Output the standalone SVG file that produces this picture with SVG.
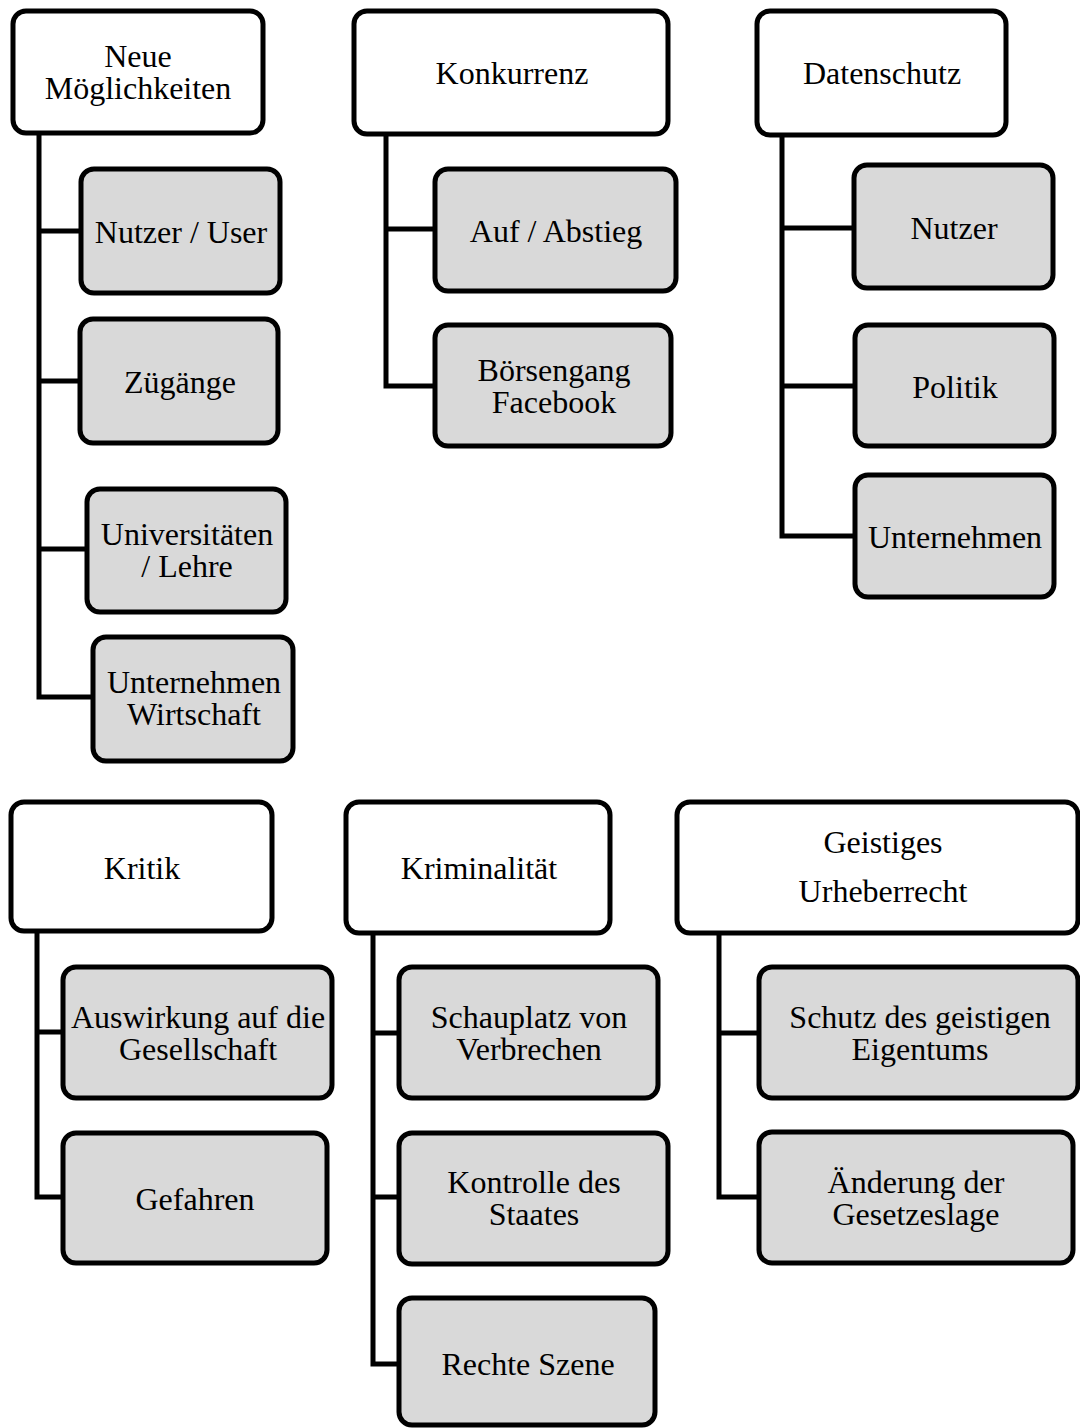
<svg xmlns="http://www.w3.org/2000/svg" width="1080" height="1428" viewBox="0 0 1080 1428">
<style>
.top{fill:#ffffff;stroke:#000;stroke-width:5}
.sub{fill:#d9d9d9;stroke:#000;stroke-width:5}
.c{fill:none;stroke:#000;stroke-width:5;stroke-linejoin:miter}
text{font-family:"Liberation Serif","Times New Roman",serif;font-size:32px;fill:#000;text-anchor:middle}
</style>
<rect width="1080" height="1428" fill="#ffffff"/>
<g id="connectors">
<path class="c" d="M39 135 V697 H93 M39 231 H81 M39 381 H80 M39 549 H87"/>
<path class="c" d="M386 135 V386 H435 M386 229 H435"/>
<path class="c" d="M782 135 V536 H855 M782 228 H854 M782 386 H855"/>
<path class="c" d="M37 933 V1197 H63 M37 1032 H63"/>
<path class="c" d="M373 933 V1364 H399 M373 1033 H399 M373 1197 H399"/>
<path class="c" d="M719 933 V1197 H759 M719 1033 H759"/>
</g>
<g id="neue-moeglichkeiten"><rect class="top" x="13" y="11" width="250" height="122" rx="13"/><text x="138" y="67">Neue</text><text x="138" y="99">Möglichkeiten</text></g>
<g id="nutzer-user"><rect class="sub" x="81" y="169" width="199" height="124" rx="13"/><text x="181" y="243">Nutzer / User</text></g>
<g id="zugaenge"><rect class="sub" x="80" y="319" width="198" height="124" rx="13"/><text x="180" y="393">Zügänge</text></g>
<g id="universitaeten"><rect class="sub" x="87" y="489" width="199" height="123" rx="13"/><text x="187" y="545">Universitäten</text><text x="187" y="577">/ Lehre</text></g>
<g id="unternehmen-wirtschaft"><rect class="sub" x="93" y="637" width="200" height="124" rx="13"/><text x="194" y="693">Unternehmen</text><text x="194" y="725">Wirtschaft</text></g>
<g id="konkurrenz"><rect class="top" x="354" y="11" width="314" height="123" rx="13"/><text x="512" y="84">Konkurrenz</text></g>
<g id="auf-abstieg"><rect class="sub" x="435" y="169" width="241" height="122" rx="13"/><text x="556" y="242">Auf / Abstieg</text></g>
<g id="boersengang"><rect class="sub" x="435" y="325" width="236" height="121" rx="13"/><text x="554" y="381">Börsengang</text><text x="554" y="413">Facebook</text></g>
<g id="datenschutz"><rect class="top" x="757" y="11" width="249" height="124" rx="13"/><text x="882" y="84">Datenschutz</text></g>
<g id="nutzer"><rect class="sub" x="854" y="165" width="199" height="123" rx="13"/><text x="954" y="239">Nutzer</text></g>
<g id="politik"><rect class="sub" x="855" y="325" width="199" height="121" rx="13"/><text x="955" y="398">Politik</text></g>
<g id="unternehmen"><rect class="sub" x="855" y="475" width="199" height="122" rx="13"/><text x="955" y="548">Unternehmen</text></g>
<g id="kritik"><rect class="top" x="11" y="802" width="261" height="129" rx="13"/><text x="142" y="879">Kritik</text></g>
<g id="auswirkung"><rect class="sub" x="63" y="967" width="269" height="131" rx="13"/><text x="198" y="1028">Auswirkung auf die</text><text x="198" y="1060">Gesellschaft</text></g>
<g id="gefahren"><rect class="sub" x="63" y="1133" width="264" height="130" rx="13"/><text x="195" y="1210">Gefahren</text></g>
<g id="kriminalitaet"><rect class="top" x="346" y="802" width="264" height="131" rx="13"/><text x="479" y="879">Kriminalität</text></g>
<g id="schauplatz"><rect class="sub" x="399" y="967" width="259" height="131" rx="13"/><text x="529" y="1028">Schauplatz von</text><text x="529" y="1060">Verbrechen</text></g>
<g id="kontrolle"><rect class="sub" x="399" y="1133" width="269" height="131" rx="13"/><text x="534" y="1193">Kontrolle des</text><text x="534" y="1225">Staates</text></g>
<g id="rechte-szene"><rect class="sub" x="399" y="1298" width="256" height="127" rx="13"/><text x="528" y="1375">Rechte Szene</text></g>
<g id="geistiges-urheberrecht"><rect class="top" x="677" y="802" width="401" height="131" rx="13"/><text x="883" y="853">Geistiges</text><text x="883" y="902">Urheberrecht</text></g>
<g id="schutz"><rect class="sub" x="759" y="967" width="319" height="131" rx="13"/><text x="920" y="1028">Schutz des geistigen</text><text x="920" y="1060">Eigentums</text></g>
<g id="aenderung"><rect class="sub" x="759" y="1132" width="314" height="131" rx="13"/><text x="916" y="1193">Änderung der</text><text x="916" y="1225">Gesetzeslage</text></g>
</svg>
